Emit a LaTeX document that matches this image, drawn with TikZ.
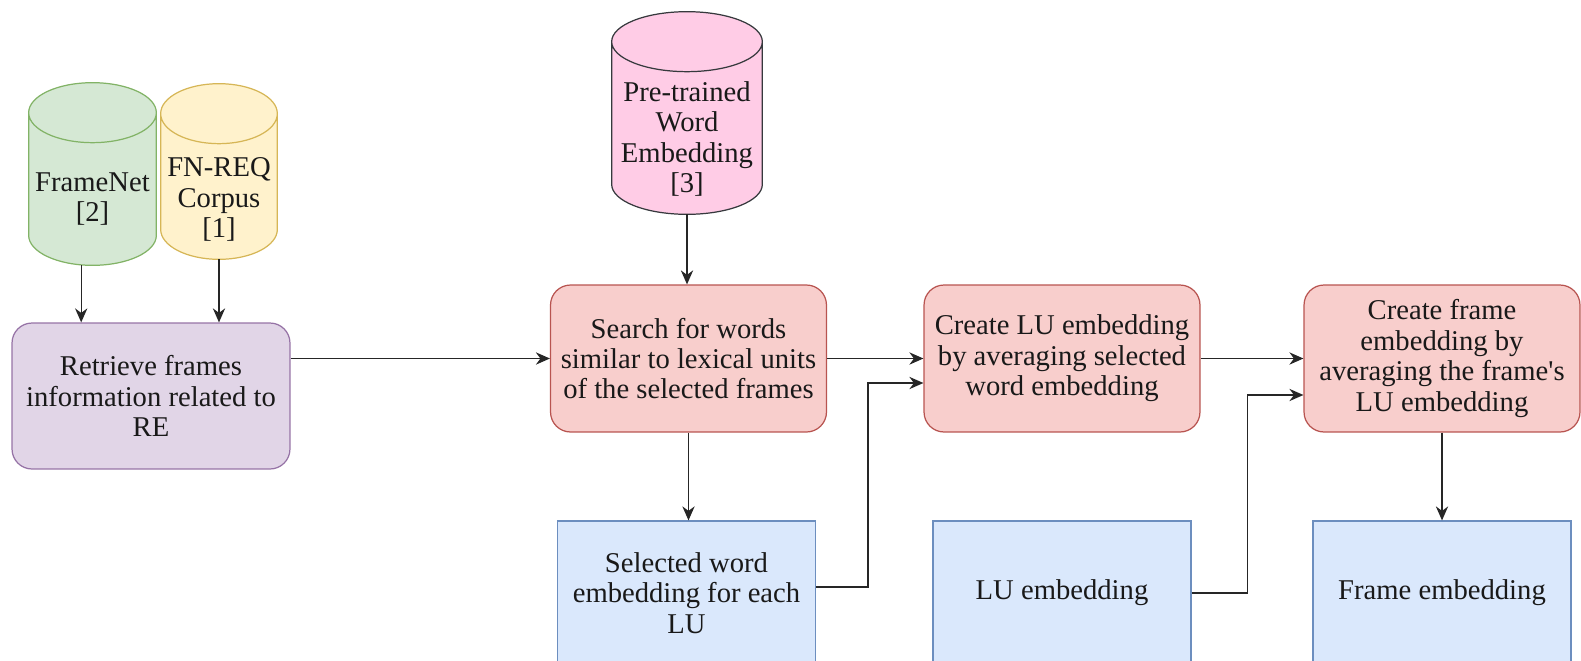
\documentclass[tikz,border=0pt]{standalone}
\usepackage{fontspec}
\setmainfont{Liberation Serif}
\usetikzlibrary{positioning, arrows.meta, calc, backgrounds}

\definecolor{redfill}{HTML}{F8CECC}
\definecolor{redline}{HTML}{B85450}
\definecolor{bluefill}{HTML}{DAE8FC}
\definecolor{blueline}{HTML}{6C8EBF}
\definecolor{greenfill}{HTML}{D5E8D4}
\definecolor{greenline}{HTML}{82B366}
\definecolor{yellowfill}{HTML}{FFF2CC}
\definecolor{yellowline}{HTML}{D6B656}
\definecolor{purplefill}{HTML}{E1D5E7}
\definecolor{purpleline}{HTML}{9673A6}
\definecolor{pinkfill}{HTML}{FFCCE6}
\definecolor{pinkline}{HTML}{36393D}

\tikzset{
  every node/.style={font=\fontsize{16.3}{17.3}\selectfont, text=black!90},
  procbox/.style={rectangle, rounded corners=0.4cm, draw=redline, fill=redfill, line width=0.7pt,
    minimum width=5.52cm, minimum height=2.94cm, align=center},
  databox/.style={rectangle, draw=blueline, fill=bluefill, line width=0.7pt,
    minimum width=5.16cm, minimum height=2.88cm, align=center},
  db/.style={rectangle, draw=none, inner sep=0pt},
  dbtext/.style={align=center, yshift=-0.5cm},
  arr/.style={-{Stealth[length=8pt, width=7pt]}, line width=0.8pt, black!85}
}

\begin{document}
\begin{tikzpicture}[x=0.02cm, y=-0.02cm]
\useasboundingbox (0,0) rectangle (1581,660);
\clip (0,0) rectangle (1581,660);

% sources
\node[db, minimum width=2.54cm, minimum height=3.64cm,
  label={[dbtext]center:FrameNet\\{[2]}}] (framenet) at (92.5,174) {};
\node[db, minimum width=2.32cm, minimum height=3.5cm,
  label={[dbtext, yshift=-0.06cm]center:FN-REQ\\Corpus\\{[1]}}] (fnreq) at (219,171.5) {};
\node[db, minimum width=3cm, minimum height=4.04cm,
  label={[dbtext, yshift=-0.02cm]center:Pre-trained\\Word\\Embedding\\{[3]}}] (pretrained) at (687,113) {};

% cylinders behind the source texts
\begin{scope}[on background layer]
\foreach \nm/\col in {framenet/green, fnreq/yellow, pretrained/pink}
  \path[fill=\col fill, draw=\col line, line width=0.7pt]
    let \p1=(\nm.north west), \p2=(\nm.south east), \n1={(\x2-\x1)/2} in
    (\x1,{\y1-0.6cm}) -- (\x1,{\y2+0.6cm})
    arc[start angle=180, end angle=360, x radius=\n1, y radius=0.6cm]
    -- (\x2,{\y1-0.6cm})
    arc[start angle=0, end angle=180, x radius=\n1, y radius=0.6cm] -- cycle
    (\x1,{\y1-0.6cm}) arc[start angle=180, end angle=360, x radius=\n1, y radius=0.6cm];
\end{scope}

% steps
\node[procbox, draw=purpleline, fill=purplefill, minimum width=5.56cm, minimum height=2.92cm] (retrieve) at (151,396) {Retrieve frames\\information related to\\RE};
\node[procbox] (search) at (688.5,358.5) {Search for words\\similar to lexical units\\of the selected frames};
\node[procbox] (createlu) at (1062,358.5) {Create LU embedding\\by averaging selected\\word embedding};
\node[procbox] (createframe) at (1442,358.5) {Create frame\\embedding by\\averaging the frame\textquotesingle s\\LU embedding};

% results
\node[databox] (selected) at (686.5,593) {Selected word\\embedding for each\\LU};
\node[databox] (luemb) at (1062,593) {LU embedding};
\node[databox] (frameemb) at (1442,593) {Frame embedding};

\coordinate (rq1) at ($(retrieve.north west)!0.25!(retrieve.north east)$);
\draw[arr] (framenet.south -| rq1) -- (rq1);
\draw[arr] (fnreq.south) -- (fnreq.south |- retrieve.north);
\draw[arr] (retrieve.east |- search.west) -- (search.west);
\draw[arr] (pretrained.south) -- (pretrained.south |- search.north);
\draw[arr] (search.south) -- (search.south |- selected.north);
\draw[arr] (search.east) -- (createlu.west);
\draw[arr] ([yshift=0.12cm]selected.east) -- ++(52,0) |- ([yshift=-0.49cm]createlu.west);
\draw[arr] (createlu.east) -- (createframe.west);
\draw[arr] (luemb.east) -- ++(56,0) |- ([yshift=-0.73cm]createframe.west);
\draw[arr] (createframe.south) -- (frameemb.north);
\end{tikzpicture}
\end{document}
